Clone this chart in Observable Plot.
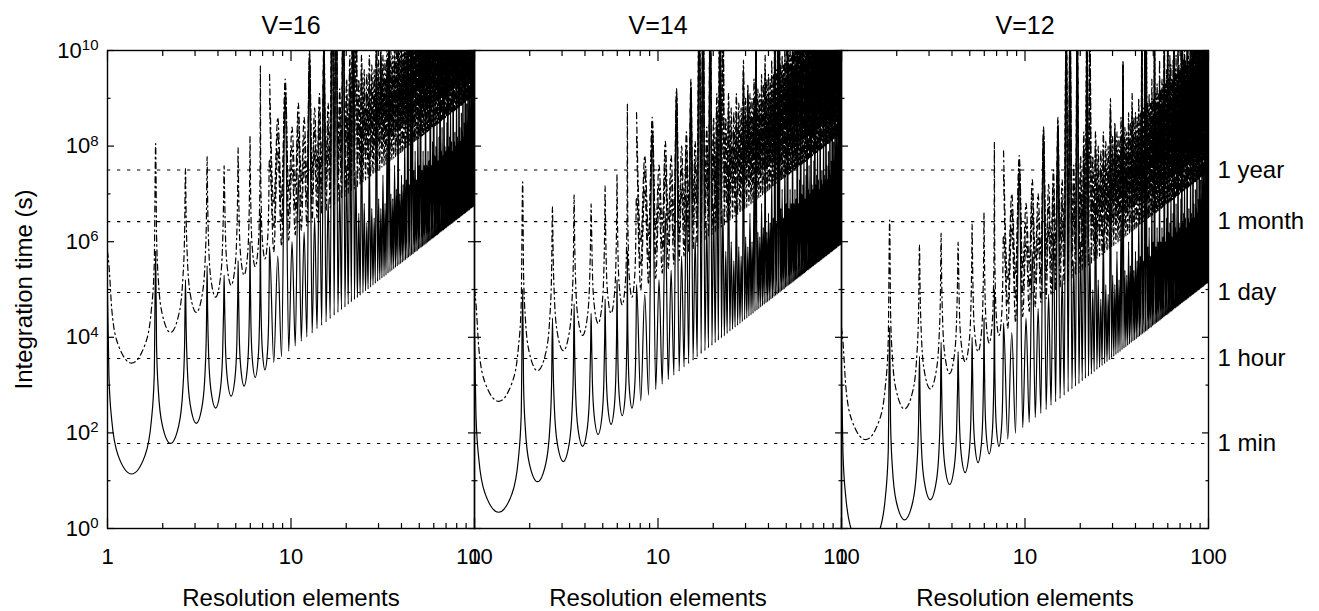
<!DOCTYPE html>
<html>
<head>
<meta charset="utf-8">
<script src="https://cdn.jsdelivr.net/npm/d3@7"></script>
<script src="https://cdn.jsdelivr.net/npm/@observablehq/plot@0.6"></script>
<style>
  html, body { margin: 0; padding: 0; background: #fff; }
  #chart { width: 1319px; height: 611px; }
  svg g[aria-label="panel-title"] text { letter-spacing: 3px; }
</style>
</head>
<body>
<div id="chart"></div>
<script>
// ---------------- data (log10 of integration time in seconds, read from the V=16 panel) ----------------
const panels = ["V=16", "V=14", "V=12"];
const panelShift = [0, -0.8, -1.6];           // decades: each panel is 2 mag brighter

const timeSeconds = [60, 3600, 86400, 2629800, 31557600];
const timeLabels = ["1 min", "1 hour", "1 day", "1 month", "1 year"];

const xMajor = [1, 10, 100];
const xTickLabels = ["1", "10", "100"];
const xMinor = [2, 3, 4, 5, 6, 7, 8, 9, 20, 30, 40, 50, 60, 70, 80, 90];
const yMajor = [1, 1e2, 1e4, 1e6, 1e8, 1e10];
const yTickBase = ["10", "10", "10", "10", "10", "10"];
const yTickExp = ["0", "2", "4", "6", "8", "10"];
const yMinor = [1e1, 1e3, 1e5, 1e7, 1e9];

// first eight arches, resolved in detail
const earlyX = [1,
  1.0183, 1.0559, 1.1422, 1.3528, 1.6021, 1.7332, 1.7972, 1.83,
  1.8506, 1.8926, 1.987, 2.2063, 2.4498, 2.5722, 2.6306, 2.66,
  2.6818, 2.7258, 2.8238, 3.0469, 3.2875, 3.4057, 3.4616, 3.49,
  3.5124, 3.5577, 3.6577, 3.8831, 4.1218, 4.2378, 4.2924, 4.32,
  4.3428, 4.3889, 4.4903, 4.7167, 4.9547, 5.0693, 5.123, 5.15,
  5.1731, 5.2197, 5.3221, 5.5494, 5.7867, 5.9001, 5.9532, 5.98,
  6.0034, 6.0504, 6.1535, 6.3815, 6.6177, 6.7305, 6.7832, 6.81,
  6.8336, 6.8808, 6.9845, 7.2129, 7.4488, 7.561, 7.6134, 7.64];
const solidEarly = [4.9,
  3.19, 2.25, 1.53, 1.14, 1.53, 2.25, 3.19, 5.8,
  3.83, 2.89, 2.17, 1.78, 2.17, 2.89, 3.83, 5.2,
  4.25, 3.31, 2.59, 2.2, 2.59, 3.31, 4.25, 5.5,
  4.57, 3.63, 2.91, 2.52, 2.91, 3.63, 4.57, 5.3,
  4.82, 3.88, 3.16, 2.77, 3.16, 3.88, 4.82, 5.6,
  5.03, 4.09, 3.37, 2.98, 3.37, 4.09, 5.03, 6.0,
  5.21, 4.27, 3.55, 3.16, 3.55, 4.27, 5.21, 6.6,
  5.37, 4.43, 3.71, 3.32, 3.71, 4.43, 5.37, 5.9];
const dashEarly = [5.8,
  5.51, 4.57, 3.85, 3.46, 3.85, 4.57, 5.51, 8.05,
  6.15, 5.21, 4.49, 4.1, 4.49, 5.21, 6.15, 7.53,
  6.57, 5.63, 4.91, 4.52, 4.91, 5.63, 6.57, 7.78,
  6.89, 5.95, 5.23, 4.84, 5.23, 5.95, 6.89, 7.59,
  7.14, 6.2, 5.48, 5.09, 5.48, 6.2, 7.14, 7.97,
  7.35, 6.41, 5.69, 5.3, 5.69, 6.41, 7.35, 8.2,
  7.53, 6.59, 5.87, 5.48, 5.87, 6.59, 7.53, 9.68,
  7.69, 6.75, 6.03, 5.64, 6.03, 6.75, 7.69, 7.73];

// dense part: spike positions, floor before each spike, and spike tops
const spikeX = [
  8.47, 9.3, 10.13, 10.96, 11.79, 12.62, 13.45, 14.28, 15.11, 15.94,
  16.77, 17.6, 18.43, 19.26, 20.09, 20.92, 21.75, 22.58, 23.41, 24.24,
  25.07, 25.9, 26.73, 27.56, 28.39, 29.22, 30.05, 30.88, 31.71, 32.54,
  33.37, 34.2, 35.03, 35.86, 36.69, 37.52, 38.35, 39.18, 40.01, 40.84,
  41.67, 42.5, 43.33, 44.16, 44.99, 45.82, 46.65, 47.48, 48.31, 49.14,
  49.97, 50.8, 51.63, 52.46, 53.29, 54.12, 54.95, 55.78, 56.61, 57.44,
  58.27, 59.1, 59.93, 60.76, 61.59, 62.42, 63.25, 64.08, 64.91, 65.74,
  66.57, 67.4, 68.23, 69.06, 69.89, 70.72, 71.55, 72.38, 73.21, 74.04,
  74.87, 75.7, 76.53, 77.36, 78.19, 79.02, 79.85, 80.68, 81.51, 82.34,
  83.17, 84, 84.83, 85.66, 86.49, 87.32, 88.15, 88.98, 89.81, 90.64,
  91.47, 92.3, 93.13, 93.96, 94.79, 95.62, 96.45, 97.28, 98.11, 98.94,
  99.77];
const solidFloor = [
  3.47, 3.59, 3.71, 3.82, 3.92, 4.01, 4.09, 4.18, 4.25, 4.32,
  4.39, 4.46, 4.52, 4.58, 4.63, 4.69, 4.74, 4.79, 4.83, 4.88,
  4.93, 4.97, 5.01, 5.05, 5.09, 5.13, 5.17, 5.2, 5.24, 5.27,
  5.3, 5.34, 5.37, 5.4, 5.43, 5.46, 5.49, 5.52, 5.54, 5.57,
  5.6, 5.62, 5.65, 5.67, 5.7, 5.72, 5.74, 5.77, 5.79, 5.81,
  5.84, 5.86, 5.88, 5.9, 5.92, 5.94, 5.96, 5.98, 6, 6.02,
  6.04, 6.06, 6.07, 6.09, 6.11, 6.13, 6.14, 6.16, 6.18, 6.2,
  6.21, 6.23, 6.24, 6.26, 6.28, 6.29, 6.31, 6.32, 6.34, 6.35,
  6.37, 6.38, 6.39, 6.41, 6.42, 6.44, 6.45, 6.46, 6.48, 6.49,
  6.5, 6.52, 6.53, 6.54, 6.55, 6.57, 6.58, 6.59, 6.6, 6.62,
  6.63, 6.64, 6.65, 6.66, 6.67, 6.69, 6.7, 6.71, 6.72, 6.73,
  6.74];
const solidPeak = [
  5.7, 9.1, 6.0, 7.4, 6.2, 9.8, 6.5, 7.8, 10.1, 6.9,
  12.5, 12.5, 7.2, 12.5, 7.6, 8.9, 12.5, 7.5, 6.6, 8.4,
  6.8, 6.4, 7.9, 6.7, 6.5, 9.6, 6.9, 6.7, 7.4, 6.8,
  8.1, 11.3, 7.0, 6.9, 7.6, 7.1, 8.7, 7.0, 7.4, 7.2,
  8.2, 7.3, 11.8, 7.2, 12.5, 12.5, 7.5, 7.9, 7.3, 8.6,
  7.6, 12.5, 7.5, 7.9, 7.6, 9.2, 7.6, 7.9, 7.7, 12.5,
  7.6, 8.1, 12.5, 7.8, 8.0, 8.8, 7.7, 8.2, 12.5, 7.9,
  8.4, 7.8, 10.1, 8.0, 7.9, 8.5, 12.5, 8.0, 8.2, 9.0,
  8.1, 7.9, 10.9, 8.1, 8.3, 8.0, 9.5, 8.2, 8.1, 12.5,
  8.4, 8.1, 8.7, 8.3, 10.6, 8.2, 8.5, 12.5, 8.4, 8.9,
  8.3, 12.5, 8.6, 9.2, 8.4, 12.5, 8.7, 12.5, 9.0, 12.5,
  12.5];
const dash1Peak = [
  7.9, 9.1, 7.6, 8.2, 7.7, 9.85, 7.9, 8.4, 10.0, 8.0,
  12.5, 12.5, 8.3, 12.5, 8.6, 9.3, 12.5, 12.5, 8.5, 9.5,
  8.7, 8.6, 9.0, 8.8, 8.7, 10.3, 8.9, 9.9, 9.0, 8.9,
  9.4, 11.3, 9.1, 9.0, 9.5, 9.2, 10.1, 9.3, 9.4, 9.3,
  9.8, 9.4, 12.5, 9.5, 12.5, 12.5, 9.6, 9.9, 9.6, 10.2,
  9.7, 12.5, 9.8, 10.0, 9.8, 10.6, 9.9, 10.1, 10.0, 12.5,
  10.0, 10.3, 12.5, 10.1, 10.7, 10.4, 10.1, 10.5, 12.5, 10.3,
  10.6, 10.2, 11.2, 10.4, 10.3, 10.7, 12.5, 10.7, 10.5, 11.0,
  10.5, 10.4, 11.6, 10.6, 10.7, 10.5, 12.5, 10.7, 10.6, 12.5,
  10.8, 10.7, 11.1, 10.8, 12.5, 10.9, 11.0, 12.5, 11.0, 11.3,
  11.0, 12.5, 11.2, 11.5, 11.2, 12.5, 11.3, 12.5, 11.6, 12.5,
  12.5];
const dash2Peak = [
  8.3, 9.3, 8.0, 8.6, 8.2, 9.9, 8.4, 8.8, 10.0, 8.5,
  12.5, 12.5, 8.8, 12.5, 9.0, 9.6, 12.5, 12.5, 9.0, 9.6,
  9.2, 9.1, 9.5, 9.3, 9.2, 10.4, 9.4, 9.9, 9.5, 9.4,
  9.8, 11.3, 9.6, 9.5, 9.9, 9.7, 10.4, 9.8, 9.9, 9.8,
  10.2, 9.9, 12.5, 10.0, 12.5, 12.5, 10.1, 10.3, 10.1, 10.6,
  10.2, 12.5, 10.3, 10.5, 10.3, 11.0, 10.4, 10.6, 10.5, 12.5,
  10.5, 10.8, 12.5, 10.6, 11.1, 10.9, 10.6, 11.0, 12.5, 10.8,
  11.1, 10.7, 11.6, 10.9, 10.8, 11.2, 12.5, 11.2, 11.0, 11.5,
  11.0, 10.9, 12.0, 11.1, 11.2, 11.0, 12.5, 11.2, 11.1, 12.5,
  11.3, 11.2, 11.6, 11.3, 12.5, 11.4, 11.5, 12.5, 11.5, 11.8,
  11.5, 12.5, 11.7, 12.0, 11.7, 12.5, 11.8, 12.5, 12.1, 12.5,
  12.5];
const dash3Peak = [
  8.6, 9.4, 8.4, 8.9, 8.6, 10.0, 8.8, 9.1, 10.2, 8.9,
  12.5, 12.5, 9.2, 12.5, 9.4, 9.9, 12.5, 12.5, 9.4, 9.9,
  9.6, 9.5, 9.9, 9.7, 9.6, 10.6, 9.8, 10.1, 9.9, 9.8,
  10.2, 11.4, 10.0, 9.9, 10.3, 10.1, 10.7, 10.2, 10.3, 10.2,
  10.6, 10.3, 12.5, 10.4, 12.5, 12.5, 10.5, 10.7, 10.5, 11.0,
  10.6, 12.5, 10.7, 10.9, 10.7, 11.4, 10.8, 11.0, 10.9, 12.5,
  10.9, 11.2, 12.5, 11.0, 11.5, 11.3, 11.0, 11.4, 12.5, 11.2,
  11.5, 11.1, 12.0, 11.3, 11.2, 11.6, 12.5, 11.6, 11.4, 11.9,
  11.4, 11.3, 12.4, 11.5, 11.6, 11.4, 12.5, 11.6, 11.5, 12.5,
  11.7, 11.6, 12.0, 11.7, 12.5, 11.8, 11.9, 12.5, 11.9, 12.2,
  11.9, 12.5, 12.1, 12.4, 12.1, 12.5, 12.2, 12.5, 12.5, 12.5,
  12.5];
const dashNames = ["dash1", "dash2", "dash3"];
const dashPeaks = [dash1Peak, dash2Peak, dash3Peak];
const dashLift = [2.32, 2.82, 3.32];     // floor of each dash-dot curve above the solid floor (decades)
const dashStart = [null, 9.0, 9.5];      // dash2/dash3 enter at the 8th spike
const solidEnd = 7.05;
const dashEnd = [9.4, 9.9, 10.4];

// ---------------- build table ----------------
const solidRows = [], dashRows = [];
panels.forEach((panel, p) => {
  const s = panelShift[p];
  const add = (arr, curve, x, v) => arr.push({panel, curve, x, y: Math.pow(10, v + s)});
  earlyX.forEach((x, i) => {
    add(solidRows, "solid", x, solidEarly[i]);
    add(dashRows, "dash1", x, dashEarly[i]);
  });
  const lastEarly = earlyX[earlyX.length - 1];
  add(dashRows, "dash2", lastEarly, dashStart[1]);
  add(dashRows, "dash3", lastEarly, dashStart[2]);
  spikeX.forEach((x, i) => {
    const tx = ((i === 0 ? lastEarly : spikeX[i - 1]) + x) / 2;
    add(solidRows, "solid", tx, solidFloor[i]);
    add(solidRows, "solid", x, solidPeak[i]);
    dashPeaks.forEach((peaks, j) => {
      add(dashRows, dashNames[j], tx, solidFloor[i] + dashLift[j]);
      add(dashRows, dashNames[j], x, peaks[i]);
    });
  });
  add(solidRows, "solid", 100, solidEnd);
  dashNames.forEach((c, j) => add(dashRows, c, 100, dashEnd[j]));
});
const timeRows = timeLabels.map((label, i) => ({label, seconds: timeSeconds[i], panel: "V=12"}));

// ---------------- plot ----------------
const tickOpts = {fill: "none", label: null, facetAnchor: null, stroke: "#000", strokeWidth: 1.2};
const chart = Plot.plot({
  width: 1319, height: 611,
  marginLeft: 107, marginRight: 111, marginTop: 50, marginBottom: 83,
  style: {fontFamily: '"Liberation Sans", Arial, Helvetica, sans-serif', color: "#000", background: "#fff", overflow: "visible"},
  fx: {domain: panels, padding: 0, axis: null, label: null},
  x: {type: "log", domain: [1, 100], axis: null},
  y: {type: "log", domain: [1, 1e10], axis: null},
  marks: [
    Plot.ruleY(timeSeconds, {stroke: "#000", strokeWidth: 1.1, strokeDasharray: "3.3,6.7"}),
    Plot.line(solidRows, {x: "x", y: "y", fx: "panel", curve: "monotone-x", stroke: "#000", strokeWidth: 1.2, clip: true}),
    Plot.line(dashRows, {x: "x", y: "y", fx: "panel", z: "curve", curve: "monotone-x", stroke: "#000", strokeWidth: 1.2, strokeDasharray: "6,3.5,1.5,3.5", clip: true}),
    Plot.frame({stroke: "#000", strokeWidth: 1.4}),
    Plot.axisX({anchor: "bottom", ticks: xMajor, tickSize: -10, ...tickOpts}),
    Plot.axisX({anchor: "bottom", ticks: xMinor, tickSize: -5, ...tickOpts}),
    Plot.axisX({anchor: "top", ticks: xMajor, tickSize: -10, ...tickOpts}),
    Plot.axisX({anchor: "top", ticks: xMinor, tickSize: -5, ...tickOpts}),
    Plot.axisY({anchor: "left", ticks: yMajor, tickSize: -7, ...tickOpts}),
    Plot.axisY({anchor: "left", ticks: yMinor, tickSize: -3.5, ...tickOpts}),
    Plot.axisY({anchor: "right", ticks: yMajor, tickSize: -7, ...tickOpts}),
    Plot.axisY({anchor: "right", ticks: yMinor, tickSize: -3.5, ...tickOpts}),
    Plot.axisX({anchor: "bottom", ticks: xMajor, tickSize: 0, tickPadding: 20, fontSize: 22, label: null, facetAnchor: null,
      tickFormat: d => xTickLabels[xMajor.indexOf(d)]}),
    Plot.axisY({anchor: "left", ticks: yMajor, tickSize: 0, tickPadding: 9, fontSize: 22, label: null, ariaLabel: "y-labels",
      tickFormat: d => yTickBase[yMajor.indexOf(d)] + "^" + yTickExp[yMajor.indexOf(d)]}),
    Plot.text(panels, {fx: d => d, text: d => d, frameAnchor: "top", dy: -17, lineAnchor: "bottom", fontSize: 25, ariaLabel: "panel-title"}),
    Plot.text(panels, {fx: d => d, text: () => "Resolution elements", frameAnchor: "bottom", dy: 77, lineAnchor: "bottom", fontSize: 24}),
    Plot.text(["Integration time (s)"], {fx: () => "V=16", text: d => d, frameAnchor: "left", rotate: -90, dx: -76, lineAnchor: "bottom", textAnchor: "middle", fontSize: 24}),
    Plot.text(timeRows, {fx: "panel", x: () => 100, y: "seconds", text: "label", textAnchor: "start", dx: 9, lineAnchor: "middle", fontSize: 24})
  ]
});
// render the y tick exponents as raised, smaller text
d3.select(chart).selectAll("text").each(function () {
  const t = this.textContent;
  if (this.childElementCount === 0 && /^10\^\d+$/.test(t)) {
    const [base, exp] = t.split("^");
    const sel = d3.select(this);
    sel.text(base);
    sel.append("tspan").attr("dy", "-0.5em").attr("font-size", "15px").text(exp);
  }
});
document.getElementById("chart").appendChild(chart);
</script>
</body>
</html>
